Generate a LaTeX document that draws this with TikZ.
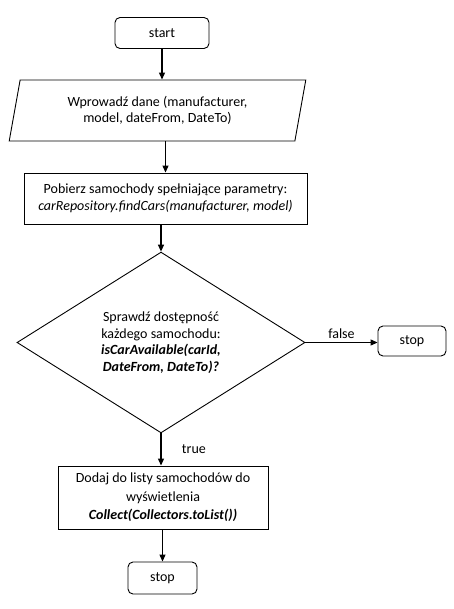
\documentclass[tikz,border=0pt]{standalone}
\usepackage{fontspec}
\setmainfont{Carlito}
\usetikzlibrary{
    arrows.meta,
    shapes.geometric,
    positioning
}
\tikzset{
    term/.style={draw, rounded corners=5pt, line width=0.9pt, inner sep=0pt},
    proc/.style={draw, rectangle, line width=0.9pt, align=center, inner sep=0pt},
    io/.style={draw, trapezium, trapezium left angle=76, trapezium right angle=104,
        trapezium stretches=true, line width=0.9pt, align=center, inner sep=0pt},
    dec/.style={draw, diamond, line width=0.9pt, align=center, inner sep=0pt},
    flow/.style={-{Triangle[length=7pt, width=6pt]}, line width=1.2pt}
}

\begin{document}
\begin{tikzpicture}[x=1pt, y=-1pt, every node/.style={font=\fontsize{14pt}{16.5pt}\selectfont}]
    \useasboundingbox[fill=white] (0, 0) rectangle (453, 609);

    \node[term, minimum width=94pt, minimum height=31pt] (start) at (162, 33) {start};
    \node[io, minimum width=297pt, minimum height=61pt] (in) at (157.5, 110.5) {Wprowadź dane (manufacturer,\\model, dateFrom, DateTo)};
    \node[proc, minimum width=283pt, minimum height=51pt] (fetch) at (165.5, 198.5) {Pobierz samochody spełniające parametry:\\\textit{carRepository.findCars(manufacturer, model)}};
    \node[dec, minimum width=288pt, minimum height=175pt] (check) at (161, 342.5) {Sprawdź dostępność\\każdego samochodu:\\\textbf{\textit{isCarAvailable(carId,}}\\\textbf{\textit{DateFrom, DateTo)?}}};
    \node[term, minimum width=68pt, minimum height=30pt] (stopa) at (412, 341) {stop};
    \node[proc, minimum width=210pt, minimum height=63pt] (add) at (163, 497.5) {Dodaj do listy samochodów do\\[2pt]wyświetlenia\\[2pt]\textbf{\textit{Collect(Collectors.toList())}}};
    \node[term, minimum width=69pt, minimum height=32pt] (stopb) at (162.5, 578) {stop};

    \draw
    (start.south) edge[flow] (start.south |- in.north)
    (fetch.north |- in.south) edge[flow] (fetch.north)
    (check.north |- fetch.south) edge[flow] (check.north)
    (check.east) edge[flow] node[above]{false} (check.east -| stopa.west)
    (check.south) edge[flow] node[right=17pt]{true} (check.south |- add.north)
    (stopb.north |- add.south) edge[flow] (stopb.north);
\end{tikzpicture}
\end{document}
